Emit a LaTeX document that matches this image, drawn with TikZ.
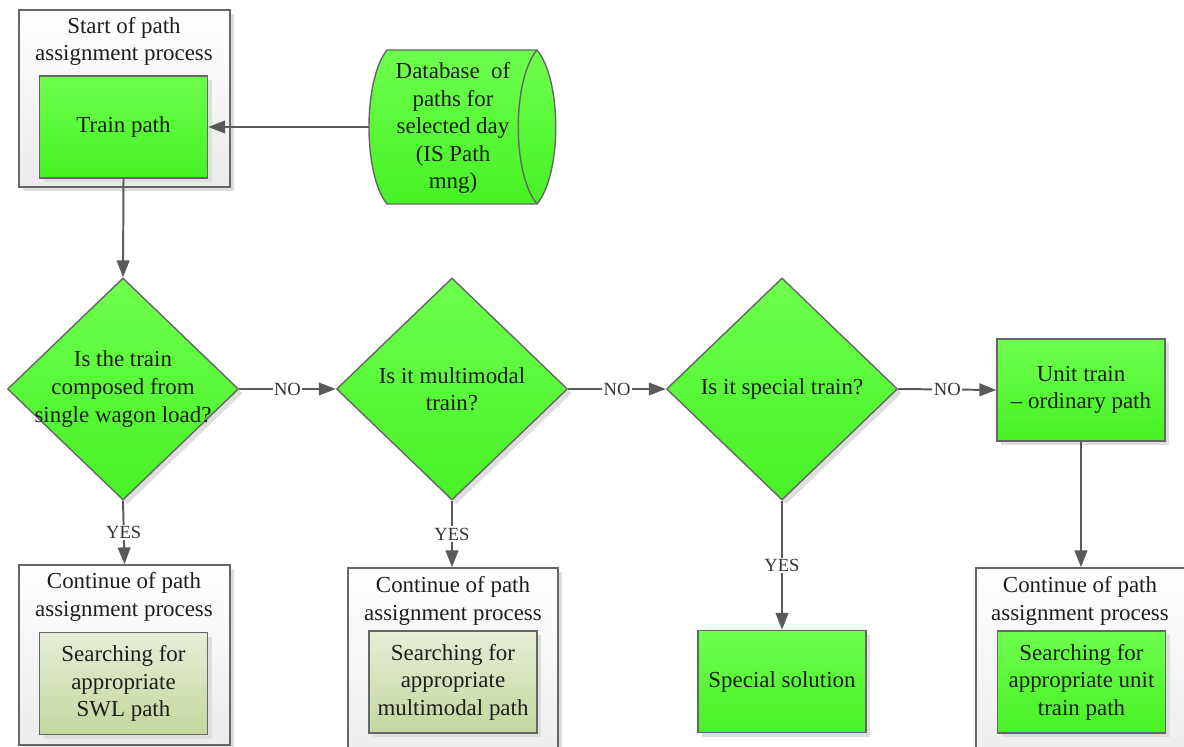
\documentclass[tikz,border=0pt]{standalone}
\usepackage{fontspec}
\setmainfont{Liberation Serif}
\usepackage{tikz}
\usetikzlibrary{arrows.meta,positioning,shapes.geometric,shadows}
\definecolor{LineGray}{HTML}{666666}
\definecolor{ArrowGray}{HTML}{5A5A5A}
\definecolor{GreenTop}{HTML}{6EFF4E}
\definecolor{GreenBottom}{HTML}{46F224}
\definecolor{OliveTop}{HTML}{E6EED6}
\definecolor{OliveBottom}{HTML}{C4D69E}
\definecolor{PaleTop}{HTML}{FFFFFF}
\definecolor{PaleBottom}{HTML}{EBEBEB}
\definecolor{ShadowGray}{HTML}{DEDEDE}
\definecolor{TextDark}{HTML}{1E1E1E}

\begin{document}
\begin{tikzpicture}[x=0.025cm, y=-0.025cm,
  every node/.style={font=\fontsize{16.3}{19.6}\selectfont, align=center, text=TextDark},
  softshadow/.style={drop shadow={fill=ShadowGray, opacity=1, shadow xshift=3pt, shadow yshift=-3pt}},
  outerbox/.style={rectangle, draw=LineGray, line width=1pt, top color=PaleTop, bottom color=PaleBottom, softshadow},
  greenbox/.style={rectangle, draw=LineGray, line width=1pt, top color=GreenTop, bottom color=GreenBottom,
    minimum width=4.2cm, minimum height=2.55cm, softshadow},
  olivebox/.style={greenbox, top color=OliveTop, bottom color=OliveBottom},
  decision/.style={diamond, draw=LineGray, line width=1pt, top color=GreenTop, bottom color=GreenBottom,
    minimum width=5.775cm, minimum height=5.55cm, inner sep=0pt, softshadow},
  flow/.style={draw=ArrowGray, line width=1.4pt, -{Triangle[length=12pt, width=9pt]}},
  lbl/.style={font=\fontsize{13.2}{15}\selectfont, fill=white, inner sep=1pt, text=black!80}]

  \useasboundingbox (0,0) rectangle (1184,747);
  \clip (0,0) rectangle (1184,747);
  \fill[white] (0,0) rectangle (1184,747);

  % Start of the process
  \node[outerbox, minimum width=5.275cm, minimum height=4.425cm] (start) at (124.5,98.5) {};
  \node (starttitle) at (124,41.5) {Start of path\\assignment process};
  \node[greenbox] (train) at (123.5,127) {Train path};

  % Database of paths
  \draw[LineGray, line width=1pt, top color=GreenTop, bottom color=GreenBottom]
    (387,50) .. controls (363,80) and (363,174) .. (387,204) -- (537,204)
    .. controls (562,174) and (562,80) .. (537,50) -- cycle;
  \draw[LineGray, line width=1pt] (537,50) .. controls (512,80) and (512,174) .. (537,204);
  \node (db) at (453,128) {Database\ \ of\\paths for\\selected day\\(IS Path\\mng)};
  \coordinate (dbw) at (369,127);

  % Decisions
  \node[decision, label={center:Is the train\\composed from\\single wagon load?}] (d1) at (123,389) {};
  \node[decision, label={center:Is it multimodal\\train?}] (d2) at (452,389) {};
  \node[decision, label={center:Is it special train?}] (d3) at (782,389) {};
  \node[greenbox] (unit) at (1081,390) {Unit train\\-- ordinary path};

  % Continuation boxes
  \node[outerbox, minimum width=5.275cm, minimum height=4.5cm] (cont1) at (124.5,655) {};
  \node (cont1title) at (124,597) {Continue of path\\assignment process};
  \node[olivebox] (swl) at (123.5,683.5) {Searching for\\appropriate\\SWL path};

  \node[outerbox, minimum width=5.25cm, minimum height=5.3cm] (cont2) at (453,674) {};
  \node (cont2title) at (453,601) {Continue of path\\assignment process};
  \node[olivebox] (mm) at (453,682) {Searching for\\appropriate\\multimodal path};

  \node[greenbox] (special) at (782,681.5) {Special solution};

  \node[outerbox, minimum width=5.6cm, minimum height=5.3cm] (cont4) at (1088,674) {};
  \node (cont4title) at (1080,601) {Continue of path\\assignment process};
  \node[greenbox] (unitpath) at (1081.5,682) {Searching for\\appropriate unit\\train path};

  % Connectors
  \draw[flow] (dbw) -- (train.east);
  \draw[flow] (train.south) -- (d1.north);
  \draw[flow] (d1.east) -- node[lbl] {NO} (d2.west);
  \draw[flow] (d2.east) -- node[lbl] {NO} (d3.west);
  \draw[flow] (d3.east) -- node[lbl] {NO} (unit.west);
  \draw[flow] (d1.south) -- node[lbl] {YES} (cont1.north);
  \draw[flow] (d2.south) -- node[lbl] {YES} (d2.south |- cont2.north);
  \draw[flow] (d3.south) -- node[lbl] {YES} (special.north);
  \draw[flow] (unit.south) -- (unit.south |- cont4.north);
\end{tikzpicture}
\end{document}
